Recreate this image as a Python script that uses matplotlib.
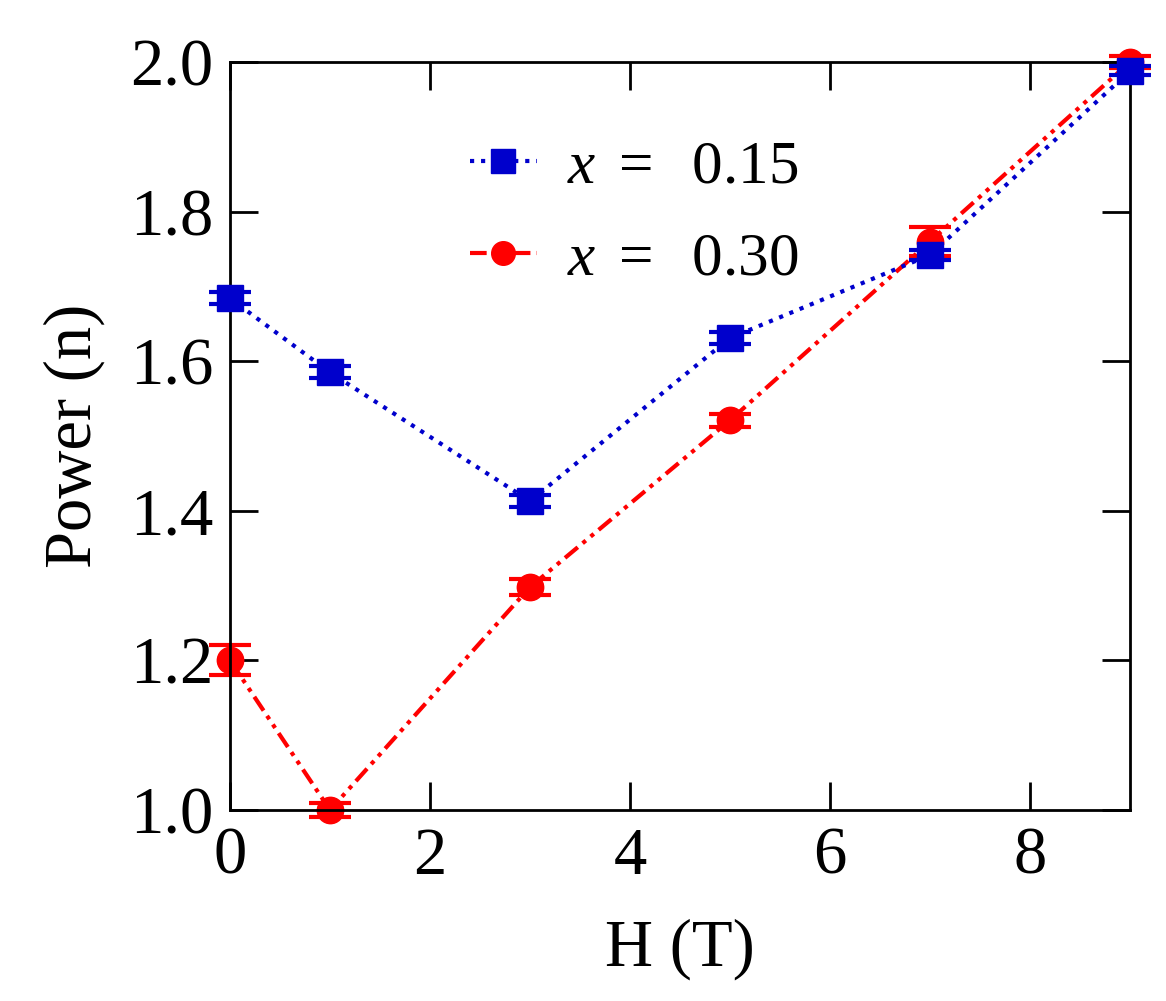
import matplotlib
matplotlib.use("Agg")
import matplotlib.pyplot as plt
from matplotlib.lines import Line2D

# ---------- data ----------
H = [0, 1, 3, 5, 7, 9]
n_015 = [1.684, 1.585, 1.413, 1.631, 1.742, 1.988]
err_015 = [0.008, 0.008, 0.008, 0.008, 0.007, 0.006]
n_030 = [1.200, 1.000, 1.298, 1.521, 1.760, 2.000]
err_030 = [0.020, 0.009, 0.011, 0.009, 0.020, 0.008]
labels = [r"$x\ =\ $ 0.15", r"$x\ =\ $ 0.30"]

# ---------- style ----------
plt.rcParams.update(
    {
        "font.family": "Liberation Serif",
        "mathtext.fontset": "custom",
        "mathtext.rm": "Liberation Serif",
        "mathtext.it": "Liberation Serif:italic",
        "font.size": 36,
        "xtick.direction": "in",
        "ytick.direction": "in",
        "xtick.top": True,
        "ytick.right": True,
        "xtick.major.size": 20,
        "ytick.major.size": 20,
        "xtick.major.width": 2,
        "ytick.major.width": 2,
        "axes.linewidth": 2,
    }
)

BLUE = "#0000CC"
RED = "#FF0000"
DASHDOTDOT = (0, (4, 1.5, 1, 1.5, 1, 1.5))

fig = plt.figure(figsize=(11.66, 10.01), dpi=100)
ax = fig.add_axes([230 / 1166, 1 - 810 / 1001, 900 / 1166, 748 / 1001])

ax.errorbar(
    H, n_015, yerr=err_015, color=BLUE, linestyle=":", linewidth=3,
    marker="s", markersize=19, capsize=15, capthick=3, elinewidth=3,
    clip_on=False, zorder=3,
)
ax.errorbar(
    H, n_030, yerr=err_030, color=RED, linestyle=DASHDOTDOT,
    linewidth=3, marker="o", markersize=19, capsize=15, capthick=3, elinewidth=3,
    clip_on=False, zorder=2,
)

ax.set_xlim(0, 9)
ax.set_ylim(1.0, 2.0)
ax.set_xticks([0, 2, 4, 6, 8])
ax.set_yticks([1.0, 1.2, 1.4, 1.6, 1.8, 2.0])
ax.tick_params(labelsize=48, pad=12)
ax.set_xlabel("H (T)", fontsize=48, labelpad=22)
ax.set_ylabel("Power (n)", fontsize=48, labelpad=18)

# legend: handles without error bars
handles = [
    Line2D([], [], color=BLUE, linestyle=":", linewidth=3, marker="s", markersize=17),
    Line2D([], [], color=RED, linestyle=DASHDOTDOT, linewidth=3, marker="o", markersize=17),
]
ax.legend(
    handles, labels, loc="upper left", bbox_to_anchor=(0.205, 0.97), frameon=False,
    fontsize=44, handlelength=1.1, handletextpad=0.5, labelspacing=0.6,
)

fig.savefig("out.png", dpi=100)
